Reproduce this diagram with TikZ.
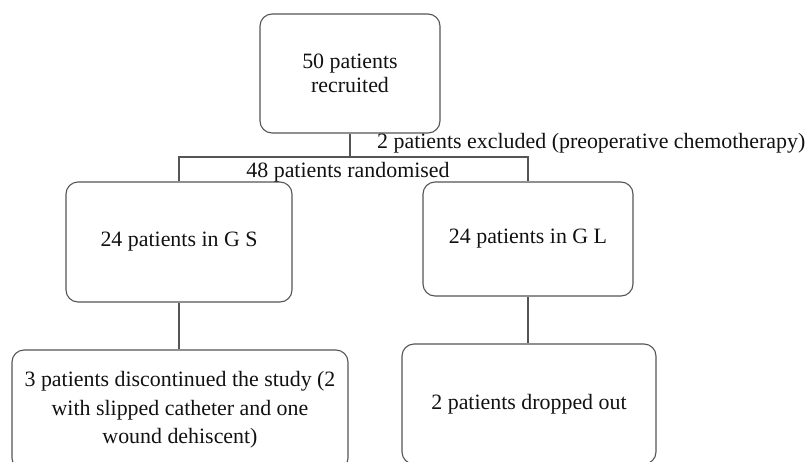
\documentclass[tikz,border=0pt]{standalone}
\usepackage{fontspec}
\setmainfont{Liberation Serif}
\definecolor{boxline}{HTML}{555555}
\definecolor{txt}{HTML}{111111}
\begin{document}
\begin{tikzpicture}[x=1pt,y=-1pt,
  flowbox/.style={draw=boxline, line width=1.1pt, rounded corners=12pt, inner sep=0pt, align=center, text=txt},
  conn/.style={draw=boxline, line width=1.1pt},
  lbl/.style={inner sep=0pt, text=txt, font=\fontsize{21.9}{24}\selectfont}]
\useasboundingbox (0,0) rectangle (811,461);
\clip (0,0) rectangle (811,461);
\node[flowbox, minimum width=180pt, minimum height=119pt, font=\fontsize{21.9}{24}\selectfont] (top) at (350,73.5) {50 patients\\recruited};
\node[flowbox, minimum width=226pt, minimum height=120pt, font=\fontsize{21.9}{24}\selectfont] (gs) at (179,242) {24 patients in G S};
\node[flowbox, minimum width=210pt, minimum height=114pt, font=\fontsize{21.9}{24}\selectfont] (gl) at (528,239) {24 patients in G L};
\node[flowbox, minimum width=336pt, minimum height=120pt, font=\fontsize{21.9}{28.5}\selectfont] (dl) at (180,410) {3 patients discontinued the study (2\\with slipped catheter and one\\wound dehiscent)};
\node[flowbox, minimum width=254pt, minimum height=120pt, font=\fontsize{21.9}{24}\selectfont] (dr) at (529,404) {2 patients dropped out};
\coordinate (j) at (350,157);
\coordinate (jl) at (179,157);
\coordinate (jr) at (528,157);
\draw[conn] (top.south) -- (j);
\draw[conn] (gs.north) -- (jl) -- (jr) -- (gl.north);
\draw[conn] (gs.south) -- (gs.south |- dl.north);
\draw[conn] (gl.south) -- (gl.south |- dr.north);
\node[lbl, anchor=base west] (excl) at (377,148) {2 patients excluded (preoperative chemotherapy)};
\node[lbl, anchor=base] (rand) at (348,177) {48 patients randomised};
\end{tikzpicture}
\end{document}
